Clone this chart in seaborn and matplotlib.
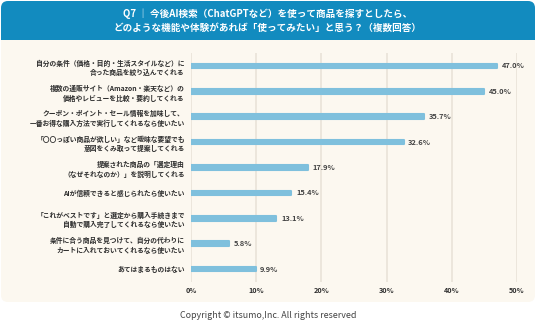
import matplotlib
matplotlib.use("Agg")
import matplotlib.pyplot as plt
import matplotlib.transforms as mtrans
from matplotlib.patches import FancyBboxPatch, Rectangle
import seaborn as sns
import pandas as pd

categories = [
    "自分の条件（価格・目的・生活スタイルなど）に\n合った商品を絞り込んでくれる",
    "複数の通販サイト（Amazon・楽天など）の\n価格やレビューを比較・要約してくれる",
    "クーポン・ポイント・セール情報を加味して、\n一番お得な購入方法で実行してくれるなら使いたい",
    "「〇〇っぽい商品が欲しい」など曖昧な要望でも\n意図をくみ取って提案してくれる",
    "提案された商品の「選定理由\n（なぜそれなのか）」を説明してくれる",
    "AIが信頼できると感じられたら使いたい",
    "「これがベストです」と選定から購入手続きまで\n自動で購入完了してくれるなら使いたい",
    "条件に合う商品を見つけて、自分の代わりに\nカートに入れておいてくれるなら使いたい",
    "あてはまるものはない",
]
values = [47.0, 45.0, 35.7, 32.6, 17.9, 15.4, 13.1, 5.8, 9.9]
xticks = [0, 10, 20, 30, 40, 50]
xtick_labels = ["0%", "10%", "20%", "30%", "40%", "50%"]
title = ("Q7 ｜ 今後AI検索（ChatGPTなど）を使って商品を探すとしたら、\n"
         "どのような機能や体験があれば「使ってみたい」と思う？（複数回答）")
footer = "Copyright © itsumo,Inc. All rights reserved"

sns.set_theme(style="white")
plt.rcParams['font.family'] = ['Noto Sans CJK JP', 'DejaVu Sans']

CREAM = "#fcf8f0"
BLUE = "#128bbf"
BAR = "#7fc0dd"
TXT = "#2e2e2e"

W, H = 536, 322
fig = plt.figure(figsize=(W / 100, H / 100), dpi=100)
fig.patch.set_facecolor("white")

ident = mtrans.IdentityTransform()
card = FancyBboxPatch((1, 20), W - 2, H - 21, boxstyle="round,pad=0,rounding_size=7",
                      transform=ident, facecolor=CREAM, edgecolor="none", zorder=0)
head = FancyBboxPatch((1, 282), W - 2, 39, boxstyle="round,pad=0,rounding_size=7",
                      transform=ident, facecolor=BLUE, edgecolor="none", zorder=0)
headsq = Rectangle((1, 282), W - 2, 12, transform=ident, facecolor=BLUE,
                   edgecolor="none", zorder=0)
for p in (card, head, headsq):
    fig.add_artist(p)

fig.text(0.5, 1 - 20.5 / H, title, ha="center", va="center", color="white",
         fontsize=6.9, fontweight="bold", linespacing=1.45)
fig.text(0.5, 1 - 316 / H, footer, ha="center", va="center", color="#444444",
         fontsize=6.4)

ax = fig.add_axes([191 / W, (H - 281.7) / H, 326 / W, 228.4 / H])
ax.set_facecolor("none")

df = pd.DataFrame({"cat": categories, "val": values})
sns.barplot(data=df, x="val", y="cat", orient="h", color=BAR, width=0.18,
            saturation=1, ax=ax, zorder=3)
for p in ax.patches:
    p.set_edgecolor(BAR)
    p.set_linewidth(1.5)
    p.set_joinstyle("round")

for i, v in enumerate(values):
    ax.text(v + 0.7, i, f"{v:.1f}%", va="center", ha="left", fontsize=5.4,
            fontweight="bold", color="#444444")

ax.set_xlim(0, 50)
ax.set_ylim(8.5, -0.5)
ax.set_xticks(xticks)
ax.set_xticklabels(xtick_labels)
ax.set_xlabel("")
ax.set_ylabel("")
ax.grid(axis="x", color="#ebe5da", linewidth=1.3, zorder=0)
ax.grid(axis="y", visible=False)
ax.set_axisbelow(True)
for s in ax.spines.values():
    s.set_visible(False)
ax.tick_params(axis="both", length=0)
ax.tick_params(axis="y", pad=4.5, labelsize=4.9, labelcolor=TXT)
ax.tick_params(axis="x", pad=3.5, labelsize=5.2, labelcolor=TXT)
for t in ax.get_yticklabels():
    t.set_multialignment("right")
    t.set_fontweight("bold")
    t.set_linespacing(1.4)
for t in ax.get_xticklabels():
    t.set_fontweight("bold")

fig.savefig("out.png", dpi=100, facecolor=fig.get_facecolor())
